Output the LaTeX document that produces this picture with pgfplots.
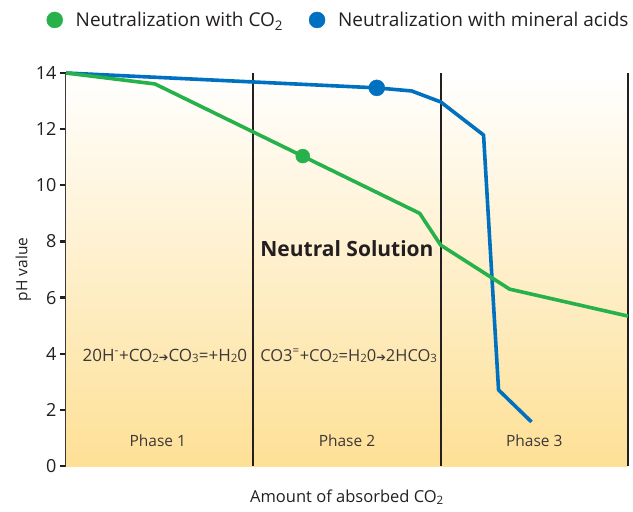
\documentclass[border=0pt]{standalone}
\usepackage{pgfplots}
\pgfplotsset{compat=1.18}
\usepackage{fontspec}
\setmainfont{Open Sans}
\newfontfamily\symf{DejaVu Sans}
\definecolor{cgreen}{RGB}{38,177,75}
\definecolor{cblue}{RGB}{0,112,192}
\definecolor{cdark}{RGB}{35,31,32}
\definecolor{ctext}{RGB}{60,56,56}
\definecolor{corange}{RGB}{254,224,150}
\newcommand\sub[1]{\raisebox{-0.2ex}{\fontsize{11.5}{11.5}\selectfont #1}}
\newcommand\arr{{\symf\fontsize{11.5}{11.5}\selectfont ➔}}
\begin{document}
\begin{tikzpicture}
\path[use as bounding box] (-66pt,-46pt) rectangle (567pt,466pt);
\begin{axis}[
  name=ax, at={(0,0)}, anchor=south west,
  scale only axis, width=562pt, height=393pt,
  xmin=0, xmax=3, ymin=0, ymax=14, clip=false,
  axis lines*=left,
  axis line style={line width=2.4pt, color=cdark},
  xtick=\empty, ytick={0,2,...,14},
  tick align=center, major tick length=12pt,
  tick style={line width=2.2pt, color=cdark},
  yticklabel style={font=\fontsize{18}{18}\selectfont, color=cdark},
  /pgf/number format/assume math mode=true,
  xlabel={Amount of absorbed CO\textsubscript{2}},
  ylabel={pH value},
  xlabel style={font=\fontsize{16.5}{16.5}\selectfont, color=cdark, at={(axis description cs:0.5,0)}, anchor=north, yshift=-20pt},
  ylabel style={font=\fontsize{15.5}{15.5}\selectfont, color=cdark, yshift=-2pt},
  legend columns=2,
  legend style={draw=none, fill=none, at={(axis description cs:-0.04,1.135)}, anchor=west,
    font=\fontsize{19}{19}\selectfont, text=cdark,
    /tikz/every odd column/.append style={column sep=11pt},
    /tikz/every even column/.append style={column sep=24pt}},
]
\fill[top color=white, bottom color=corange] (axis cs:0,0) rectangle (axis cs:3,14);
\draw[cdark, line width=2.2pt] (axis cs:1,0) -- (axis cs:1,14);
\draw[cdark, line width=2.2pt] (axis cs:2,0) -- (axis cs:2,14);
\draw[cdark, line width=2.2pt] (axis cs:3,0) -- (axis cs:3,14);

\addlegendimage{only marks, mark=*, mark size=8pt, color=cgreen}
\addlegendentry{Neutralization with CO\textsubscript{2}}
\addlegendimage{only marks, mark=*, mark size=8pt, color=cblue}
\addlegendentry{Neutralization with mineral acids}

\addplot[forget plot, color=cblue, line width=3.6pt, line join=round] coordinates {
 (0,14) (1.659,13.47) (1.845,13.36) (2.0,12.97) (2.229,11.79) (2.309,2.71) (2.485,1.57)};
\addplot[forget plot, color=cgreen, line width=3.6pt, line join=round] coordinates {
 (0,14) (0.475,13.61) (1.888,9.0) (2.0,7.87) (2.368,6.3) (3.0,5.34)};
\addplot[forget plot, only marks, mark=*, mark size=7pt, color=cgreen] coordinates {(1.264,11.04)};
\addplot[forget plot, only marks, mark=*, mark size=8pt, color=cblue] coordinates {(1.659,13.47)};

\node[font=\bfseries\fontsize{21}{21}\selectfont, text=cdark] at (axis cs:1.5,7.73) {Neutral Solution};
\node[font=\fontsize{17}{17}\selectfont, text=ctext] at (axis cs:0.528,3.92) {20H\textsuperscript{-}+CO\sub{2}\arr CO\sub{3}=+H\sub{2}0};
\node[font=\fontsize{16.5}{16.5}\selectfont, text=ctext] at (axis cs:1.509,3.92) {CO3\textsuperscript{=}+CO\sub{2}=H\sub{2}0\arr 2HCO\sub{3}};
\node[font=\fontsize{15.5}{15.5}\selectfont, text=ctext] at (axis cs:0.49,0.89) {Phase 1};
\node[font=\fontsize{15.5}{15.5}\selectfont, text=ctext] at (axis cs:1.5,0.89) {Phase 2};
\node[font=\fontsize{15.5}{15.5}\selectfont, text=ctext] at (axis cs:2.5,0.89) {Phase 3};
\end{axis}
\end{tikzpicture}
\end{document}
